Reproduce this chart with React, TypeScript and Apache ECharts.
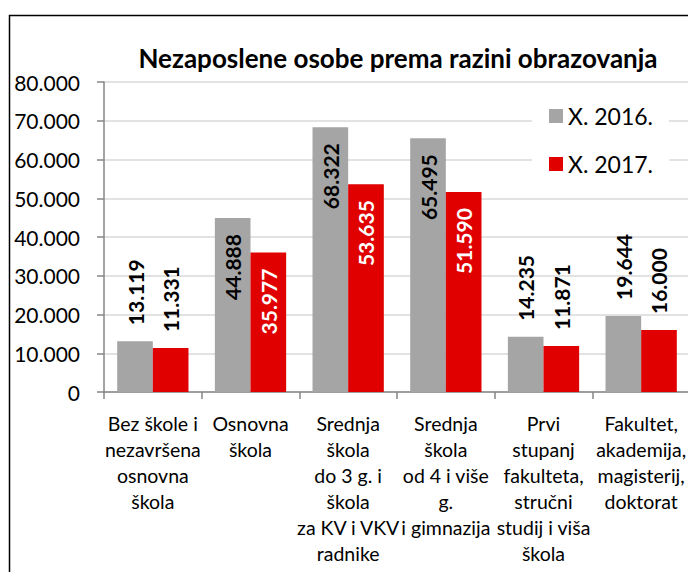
import { useEffect, useRef } from "react";
import * as echarts from "echarts";

const titleText = "Nezaposlene osobe prema razini obrazovanja";
const categories = [
  "Bez škole i\nnezavršena\nosnovna\nškola",
  "Osnovna\nškola",
  "Srednja\nškola\ndo 3 g. i\nškola\nza KV i VKV\nradnike",
  "Srednja\nškola\nod 4 i više\ng.\ni gimnazija",
  "Prvi\nstupanj\nfakulteta,\nstručni\nstudij i viša\nškola",
  "Fakultet,\nakademija,\nmagisterij,\ndoktorat",
];
const seriesNames = ["X. 2016.", "X. 2017."];
const values2016 = [13119, 44888, 68322, 65495, 14235, 19644];
const values2017 = [11331, 35977, 53635, 51590, 11871, 16000];
const yMin = 0;
const yMax = 80000;
const yInterval = 10000;

const FONT = "Lato";
const fmt = (v: number) => String(v).replace(/\B(?=(\d{3})+(?!\d))/g, ".");

function buildData(values: number[], insideColor: string) {
  return values.map((v) => {
    const inside = v > 30000;
    return {
      value: v,
      label: inside
        ? {
            position: "insideTop",
            rotate: 90,
            align: "right",
            verticalAlign: "middle",
            distance: 16,
            color: insideColor,
          }
        : {
            position: "top",
            rotate: 90,
            align: "left",
            verticalAlign: "middle",
            distance: 16,
            color: "#000",
          },
    };
  });
}

export default function App() {
  const ref = useRef<HTMLDivElement>(null);
  useEffect(() => {
    if (!ref.current) return;
    const chart = echarts.init(ref.current, null, { renderer: "svg" });
    const labelBase = {
      show: true,
      fontFamily: FONT,
      fontWeight: "bold",
      fontSize: 21,
      formatter: (p: any) => fmt(p.value),
    };
    chart.setOption({
      animation: false,
      backgroundColor: "#fff",
      title: {
        text: titleText,
        left: 398,
        top: 43,
        padding: 0,
        textAlign: "center",
        textStyle: {
          fontFamily: FONT,
          fontWeight: "bold",
          fontSize: 26,
          color: "#000",
          lineHeight: 30,
        },
      },
      legend: {
        orient: "vertical",
        left: 532,
        top: 96,
        padding: [8, 16, 8, 17],
        backgroundColor: "#fff",
        itemWidth: 14,
        itemHeight: 14,
        itemGap: 24,
        icon: "rect",
        textStyle: {
          fontFamily: FONT,
          fontSize: 23,
          color: "#000",
          lineHeight: 24,
        },
        data: seriesNames,
      },
      grid: {
        left: 104,
        right: -2,
        top: 82,
        bottom: 180,
        containLabel: false,
        outerBoundsMode: "none",
      },
      xAxis: {
        type: "category",
        data: categories,
        axisLine: { lineStyle: { color: "#868686", width: 1.5 } },
        axisTick: { show: true, length: 7, lineStyle: { color: "#868686", width: 1.5 } },
        axisLabel: {
          interval: 0,
          margin: 18,
          fontFamily: FONT,
          fontSize: 19.5,
          lineHeight: 26,
          color: "#000",
          align: "center",
        },
      },
      yAxis: {
        type: "value",
        min: yMin,
        max: yMax,
        interval: yInterval,
        axisLine: { show: true, lineStyle: { color: "#868686", width: 1.5 } },
        axisTick: { show: true, length: 7, lineStyle: { color: "#868686", width: 1.5 } },
        splitLine: { lineStyle: { color: "#d9d9d9", width: 1.5 } },
        axisLabel: {
          margin: 24,
          fontFamily: FONT,
          fontSize: 21,
          color: "#000",
          formatter: (v: number) => fmt(v),
        },
      },
      series: [
        {
          name: seriesNames[0],
          type: "bar",
          data: buildData(values2016, "#000"),
          itemStyle: { color: "#a5a5a5" },
          barGap: "0%",
          barCategoryGap: "27%",
          label: labelBase,
        },
        {
          name: seriesNames[1],
          type: "bar",
          data: buildData(values2017, "#fff"),
          itemStyle: { color: "#e00000" },
          barGap: "0%",
          barCategoryGap: "27%",
          label: labelBase,
        },
      ],
      graphic: [
        {
          type: "rect",
          silent: true,
          z: 100,
          shape: { x: 9.5, y: 15.5, width: 800, height: 800 },
          style: { fill: "none", stroke: "#000", lineWidth: 1.5 },
        },
      ],
    });
    return () => chart.dispose();
  }, []);
  return (
    <div
      ref={ref}
      style={{ position: "fixed", left: 0, top: 0, width: 688, height: 572 }}
    />
  );
}
